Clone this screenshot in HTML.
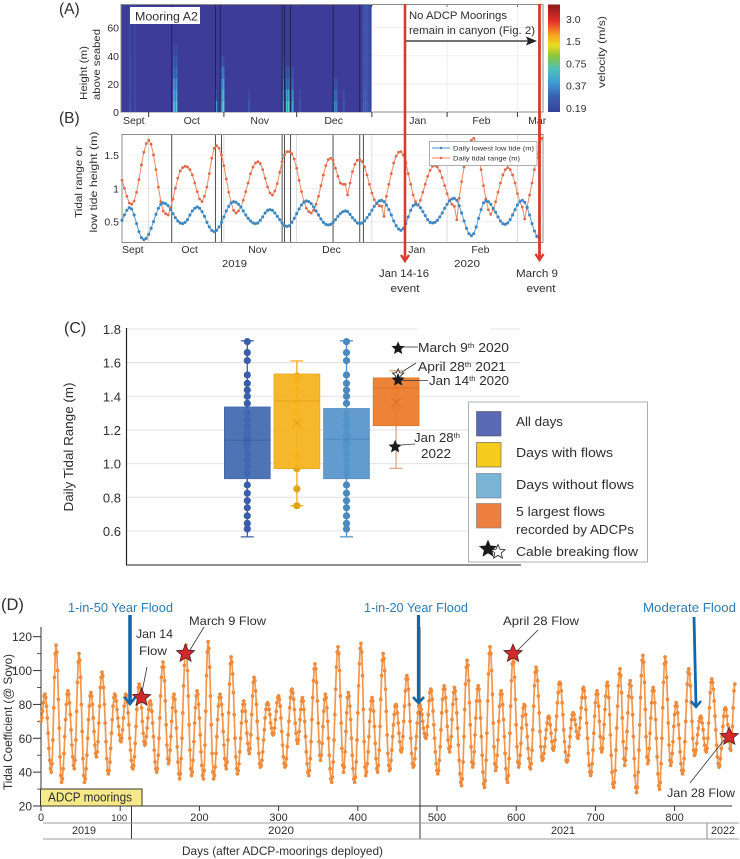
<!DOCTYPE html>
<html lang="en">
<head>
<meta charset="utf-8">
<title>Tidal range and canyon flows</title>
<style>
html,body{margin:0;padding:0;background:#fff;}
svg{display:block;}
text{font-family:"Liberation Sans",sans-serif;fill:#2e2e2e;}
</style>
</head>
<body>
<svg id="fig" xmlns="http://www.w3.org/2000/svg" width="740" height="859" viewBox="0 0 740 859">
<defs>
<linearGradient id="jet" x1="0" y1="1" x2="0" y2="0">
<stop offset="0" stop-color="#36409a"/><stop offset="0.14" stop-color="#3a5fb0"/><stop offset="0.28" stop-color="#3f9fd4"/><stop offset="0.4" stop-color="#4fc0b8"/><stop offset="0.52" stop-color="#8cc63f"/><stop offset="0.62" stop-color="#e8dc20"/><stop offset="0.72" stop-color="#f6a01e"/><stop offset="0.84" stop-color="#e4322a"/><stop offset="1" stop-color="#8a1a1c"/>
</linearGradient>
</defs>

<!-- Panel A frame -->
<rect x="121" y="4.5" width="422" height="107.5" fill="#fff" stroke="#8c8c8c" stroke-width="1"/>
<g id="aGrid"></g>
<rect x="121.5" y="5" width="250" height="107" fill="#3d3c98"/>
<g id="aHeat"></g>
<g id="aLines"></g>
<g id="aTicks"></g>
<rect x="130" y="7" width="70" height="17" fill="#fff"/>
<text x="135" y="20.5" font-size="11.5" textLength="63" lengthAdjust="spacingAndGlyphs">Mooring A2</text>
<text x="59" y="14" font-size="15.5">(A)</text>
<text x="59" y="123" font-size="15.5">(B)</text>
<text transform="translate(87,100) rotate(-90)" font-size="10.5" textLength="54" lengthAdjust="spacingAndGlyphs">Height (m)</text>
<text transform="translate(100,100) rotate(-90)" font-size="10.5" textLength="71" lengthAdjust="spacingAndGlyphs">above seabed</text>
<text x="409" y="19" font-size="11" textLength="98" lengthAdjust="spacingAndGlyphs">No ADCP Moorings</text>
<text x="409" y="34" font-size="11" textLength="126" lengthAdjust="spacingAndGlyphs">remain in canyon (Fig. 2)</text>
<line x1="405" y1="41" x2="530" y2="41" stroke="#444" stroke-width="1.6"/>
<polygon points="526,36.5 537,41 526,45.5 528,41" fill="#222"/>
<rect x="548" y="4.5" width="12" height="107.5" fill="url(#jet)"/>
<g id="cbLabels"></g>
<text transform="translate(605,52) rotate(-90)" font-size="10.5" text-anchor="middle" textLength="72" lengthAdjust="spacingAndGlyphs">velocity (m/s)</text>

<!-- Panel B -->
<rect x="122" y="134.5" width="421" height="108" fill="#fff" stroke="#8c8c8c" stroke-width="1"/>
<g id="bGrid"></g>
<g id="bLines"></g>
<g id="bSeries"></g>
<g id="bTicks"></g>
<text transform="translate(82,182) rotate(-90)" font-size="10.5" text-anchor="middle" textLength="72" lengthAdjust="spacingAndGlyphs">Tidal range or</text>
<text transform="translate(97,182) rotate(-90)" font-size="10.5" text-anchor="middle" textLength="101" lengthAdjust="spacingAndGlyphs">low tide height (m)</text>
<text x="222" y="267" font-size="10.5" textLength="25" lengthAdjust="spacingAndGlyphs">2019</text>
<text x="454" y="267" font-size="10.5" textLength="26" lengthAdjust="spacingAndGlyphs">2020</text>
<g>
<rect x="429.5" y="141.5" width="107.5" height="24" fill="#fff" stroke="#9a9a9a" stroke-width="0.8"/>
<line x1="432" y1="148" x2="450" y2="148" stroke="#4f94c8" stroke-width="1"/>
<circle cx="441" cy="148" r="1.3" fill="#3f87c0"/>
<line x1="432" y1="158" x2="450" y2="158" stroke="#ee8a5e" stroke-width="1"/>
<circle cx="441" cy="158" r="1.3" fill="#e0694a"/>
<text x="453" y="150.5" font-size="6.8" textLength="81" lengthAdjust="spacingAndGlyphs">Daily lowest low tide (m)</text>
<text x="453" y="160.5" font-size="6.8" textLength="67" lengthAdjust="spacingAndGlyphs">Daily tidal range (m)</text>
</g>

<!-- Red event arrows -->
<g>
<line x1="405" y1="4" x2="405" y2="260" stroke="#d93a2b" stroke-width="2.6"/>
<polyline points="401,255 405,261 409,255" fill="none" stroke="#d93a2b" stroke-width="2.4"/>
<line x1="539.5" y1="4" x2="539.5" y2="258" stroke="#d93a2b" stroke-width="2.8"/>
<polyline points="535.5,254 539.5,260 543.5,254" fill="none" stroke="#d93a2b" stroke-width="2.4"/>
</g>
<text x="404" y="277" font-size="11" text-anchor="middle" textLength="50" lengthAdjust="spacingAndGlyphs">Jan 14-16</text>
<text x="405" y="292" font-size="11" text-anchor="middle" textLength="29" lengthAdjust="spacingAndGlyphs">event</text>
<text x="537" y="277" font-size="11" text-anchor="middle" textLength="42" lengthAdjust="spacingAndGlyphs">March 9</text>
<text x="541" y="292" font-size="11" text-anchor="middle" textLength="29" lengthAdjust="spacingAndGlyphs">event</text>

<!-- Panel C -->
<text x="64" y="333" font-size="16">(C)</text>
<g id="cGrid"></g>
<rect x="417" y="326" width="74" height="6" fill="#fff"/>
<line x1="126.5" y1="328" x2="126.5" y2="565" stroke="#222" stroke-width="1.2"/>
<line x1="126" y1="565" x2="521" y2="565" stroke="#222" stroke-width="1"/>
<text transform="translate(73,447) rotate(-90)" font-size="12.5" text-anchor="middle" textLength="129" lengthAdjust="spacingAndGlyphs">Daily Tidal Range (m)</text>
<g id="cBoxes"></g>
<g id="cStars"></g>
<g stroke="#333" stroke-width="0.8">
<line x1="402" y1="347" x2="418" y2="347"/>
<line x1="402" y1="372" x2="416" y2="363"/>
<line x1="402" y1="380.5" x2="428" y2="380.5"/>
<line x1="401" y1="445" x2="415" y2="444"/>
</g>
<text x="418" y="352" font-size="13" textLength="91" lengthAdjust="spacingAndGlyphs">March 9<tspan dy="-4" font-size="7.5">th</tspan><tspan dy="4"> 2020</tspan></text>
<text x="418" y="371" font-size="13" textLength="88" lengthAdjust="spacingAndGlyphs">April 28<tspan dy="-4" font-size="7.5">th</tspan><tspan dy="4"> 2021</tspan></text>
<text x="429" y="385" font-size="13" textLength="80" lengthAdjust="spacingAndGlyphs">Jan 14<tspan dy="-4" font-size="7.5">th</tspan><tspan dy="4"> 2020</tspan></text>
<text x="414" y="442" font-size="13" textLength="46" lengthAdjust="spacingAndGlyphs">Jan 28<tspan dy="-4" font-size="7.5">th</tspan></text>
<text x="421" y="458" font-size="13" textLength="30" lengthAdjust="spacingAndGlyphs">2022</text>
<g>
<rect x="468.5" y="402" width="179" height="160" fill="#fff" stroke="#a3a8b0" stroke-width="0.9"/>
<rect x="476.5" y="411.5" width="24.5" height="24.5" fill="#5a69b4" stroke="#555" stroke-width="0.6"/>
<rect x="476.5" y="442.5" width="24.5" height="24.5" fill="#f6cc1d" stroke="#555" stroke-width="0.6"/>
<rect x="476.5" y="473.5" width="24.5" height="24.5" fill="#7ab5d8" stroke="#777" stroke-width="0.6"/>
<rect x="476.5" y="503.5" width="24.5" height="24.5" fill="#ef7f3f" stroke="#777" stroke-width="0.6"/>
<text x="516" y="426" font-size="13" textLength="47" lengthAdjust="spacingAndGlyphs">All days</text>
<text x="516" y="457" font-size="13" textLength="97" lengthAdjust="spacingAndGlyphs">Days with flows</text>
<text x="516" y="489" font-size="13" textLength="118" lengthAdjust="spacingAndGlyphs">Days without flows</text>
<text x="516" y="516" font-size="13" textLength="89" lengthAdjust="spacingAndGlyphs">5 largest flows</text>
<text x="516" y="534" font-size="13" textLength="118" lengthAdjust="spacingAndGlyphs">recorded by ADCPs</text>
<text x="516" y="556" font-size="13" textLength="122" lengthAdjust="spacingAndGlyphs">Cable breaking flow</text>
<g id="cLegendStars"></g>
</g>

<!-- Panel D -->
<text x="1" y="610" font-size="16.5">(D)</text>
<g id="dAxes"></g>
<line id="dLine20" x1="420" y1="627" x2="420" y2="839" stroke="#222" stroke-width="0.9"/>
<line x1="131.5" y1="806" x2="131.5" y2="839" stroke="#222" stroke-width="0.9"/>
<line x1="707" y1="823" x2="707" y2="839" stroke="#8a8a8a" stroke-width="1"/>
<line x1="43" y1="823" x2="739" y2="823" stroke="#9b9b9b" stroke-width="1"/>
<line x1="43" y1="839" x2="739" y2="839" stroke="#9b9b9b" stroke-width="1"/>
<text x="84" y="834" font-size="11" text-anchor="middle" textLength="24" lengthAdjust="spacingAndGlyphs">2019</text>
<text x="281" y="834" font-size="11" text-anchor="middle" textLength="26" lengthAdjust="spacingAndGlyphs">2020</text>
<text x="563" y="834" font-size="11" text-anchor="middle" textLength="24" lengthAdjust="spacingAndGlyphs">2021</text>
<text x="723" y="834" font-size="11" text-anchor="middle" textLength="24" lengthAdjust="spacingAndGlyphs">2022</text>
<text x="182" y="855" font-size="12" textLength="201" lengthAdjust="spacingAndGlyphs">Days (after ADCP-moorings deployed)</text>
<text transform="translate(12,722) rotate(-90)" font-size="12" text-anchor="middle" textLength="136" lengthAdjust="spacingAndGlyphs">Tidal Coefficient (@ Soyo)</text>
<g id="dSeries"></g>
<rect x="40.5" y="789" width="101.5" height="17" fill="#f6e98c" stroke="#3a3a28" stroke-width="1"/>
<text x="48" y="801.5" font-size="13" textLength="84" lengthAdjust="spacingAndGlyphs">ADCP moorings</text>
<g fill="none" stroke="#1268ad">
<line x1="130" y1="615" x2="130" y2="703" stroke-width="3.6"/>
<polyline points="124.5,697 130,704 135.5,697" stroke-width="2.6"/>
<line x1="418.5" y1="615" x2="418.5" y2="702" stroke-width="3.2"/>
<polyline points="413,697 418.5,703 424,697" stroke-width="2.6"/>
<line x1="694" y1="617" x2="696" y2="705" stroke-width="2.8"/>
<polyline points="691,701 696,707 701,701" stroke-width="2.4"/>
</g>
<text x="68" y="612" font-size="12.5" fill="#2f7cb5" style="fill:#2f7cb5" textLength="105" lengthAdjust="spacingAndGlyphs">1-in-50 Year Flood</text>
<text x="364" y="612" font-size="12.5" style="fill:#2f7cb5" textLength="104" lengthAdjust="spacingAndGlyphs">1-in-20 Year Flood</text>
<text x="643" y="612" font-size="12.5" style="fill:#2f7cb5" textLength="93" lengthAdjust="spacingAndGlyphs">Moderate Flood</text>
<g stroke="#333" stroke-width="0.8">
<line x1="147" y1="667" x2="142" y2="692"/>
<line x1="204" y1="627" x2="190" y2="650"/>
<line x1="538" y1="630" x2="518" y2="650"/>
<line x1="690" y1="783" x2="724" y2="740"/>
</g>
<g id="dStars"></g>
<text x="189" y="625" font-size="12" textLength="77" lengthAdjust="spacingAndGlyphs">March 9 Flow</text>
<text x="136" y="638" font-size="12" textLength="37" lengthAdjust="spacingAndGlyphs">Jan 14</text>
<text x="139" y="655" font-size="12" textLength="28" lengthAdjust="spacingAndGlyphs">Flow</text>
<text x="503" y="625" font-size="12" textLength="76" lengthAdjust="spacingAndGlyphs">April 28 Flow</text>
<text x="667" y="797" font-size="12" textLength="68" lengthAdjust="spacingAndGlyphs">Jan 28 Flow</text>
</svg>

<script>
// ---- Panel A data ----
const heightTicks = [0, 20, 40, 60];
const monthTickDays = [11, 42, 72, 103, 134, 163];
const eventLineDays = [20.5, 38.5, 40.5, 66, 67, 69.5, 87, 98];
const heatHeightBinSize = [8];
const heatDays = [3, 5, 21, 22, 38.4, 40.6, 41.4, 52, 66.2, 67.6, 68.4, 69.9, 73, 87.4, 88.2, 91, 99.2, 100, 100.8, 101.6];
const heatWidths = [1, 1, 1, 1, 1, 1, 1, 1, 1.1, 0.8, 0.8, 1, 1, 0.8, 0.8, 1, 0.8, 0.8, 0.8, 0.8];
const heatProfiles = [
  [0.24,0.23,0.23,0.23,0.23,0.22,0.22,0.22,0.22,0.22],
  [0.23,0.23,0.22,0.22,0.22,0.22,0.22,0.22,0.22,0.22],
  [0.62,0.50,0.42,0.30,0.26,0.22],
  [0.72,0.56,0.45,0.32,0.27,0.23],
  [0.45,0.24],
  [0.42,0.36,0.32,0.27,0.23],
  [0.72,0.62,0.50,0.36,0.24],
  [0.27,0.22],
  [0.50,0.40,0.32,0.26,0.22],
  [0.68,0.50,0.30,0.25],
  [0.72,0.52,0.30,0.25],
  [0.52,0.42,0.30,0.25],
  [0.25,0.22],
  [0.42,0.32,0.25],
  [0.36,0.28,0.24],
  [0.26,0.24],
  [0.30,0.28,0.27,0.27,0.27,0.27,0.27,0.27,0.27,0.27],
  [0.31,0.30,0.28,0.28,0.28,0.28,0.28,0.28,0.28,0.28],
  [0.28,0.27,0.27,0.27,0.27,0.27,0.27,0.27,0.27,0.27],
  [0.25,0.25,0.25,0.25,0.25,0.25,0.25,0.25,0.25,0.25]
];
const colorbarTicks = ["3.0", "1.5", "0.75", "0.37", "0.19"];
const monthLabelsA = ["Sept", "Oct", "Nov", "Dec", "Jan", "Feb", "Mar"];
const monthLabelDaysA = [0, 25, 52.5, 83, 118, 144, 167];

// ---- Panel B data ----
const tideTicks = [0.5, 1, 1.5];
const monthLabelsB = ["Sept", "Oct", "Nov", "Dec", "Jan", "Feb"];
const monthLabelDaysB = [0, 24.5, 52, 82.5, 118, 144];
const eventLineDaysB = [20.5, 38.5, 41, 66, 67, 69.5, 87, 98, 99.5];
const lowestLowTide = [0.52,0.60,0.67,0.71,0.69,0.60,0.47,0.35,0.26,0.23,0.25,0.31,0.40,0.50,0.61,0.70,0.76,0.78,0.77,0.74,0.68,0.62,0.56,0.51,0.48,0.47,0.49,0.53,0.60,0.66,0.70,0.72,0.70,0.65,0.58,0.49,0.42,0.37,0.35,0.37,0.42,0.49,0.57,0.66,0.73,0.78,0.80,0.79,0.76,0.72,0.66,0.60,0.55,0.51,0.48,0.47,0.48,0.52,0.57,0.63,0.67,0.68,0.67,0.63,0.58,0.53,0.48,0.44,0.43,0.44,0.49,0.55,0.62,0.69,0.75,0.79,0.81,0.80,0.77,0.72,0.66,0.60,0.54,0.49,0.46,0.45,0.46,0.49,0.53,0.58,0.62,0.65,0.66,0.65,0.61,0.56,0.52,0.48,0.47,0.48,0.51,0.56,0.61,0.67,0.73,0.78,0.81,0.82,0.80,0.75,0.68,0.60,0.51,0.44,0.39,0.37,0.40,0.47,0.57,0.67,0.74,0.76,0.75,0.71,0.65,0.59,0.53,0.49,0.48,0.49,0.52,0.57,0.63,0.70,0.76,0.81,0.84,0.85,0.82,0.74,0.63,0.51,0.40,0.32,0.29,0.32,0.42,0.55,0.68,0.78,0.81,0.80,0.76,0.70,0.64,0.57,0.51,0.47,0.46,0.48,0.53,0.60,0.68,0.75,0.80,0.82,0.79,0.71,0.60,0.47,0.36,0.28,0.25];
const dailyTidalRange = [1.12,1.00,0.88,0.78,0.76,0.81,0.94,1.13,1.35,1.54,1.67,1.72,1.66,1.50,1.28,1.02,0.80,0.66,0.62,0.60,0.70,0.84,1.00,1.15,1.26,1.31,1.33,1.32,1.28,1.20,1.08,0.95,0.84,0.80,0.88,1.02,1.22,1.45,1.60,1.64,1.60,1.50,1.34,1.14,0.94,0.78,0.67,0.63,0.66,0.72,0.82,0.95,1.08,1.22,1.32,1.38,1.40,1.37,1.28,1.15,1.02,0.93,0.90,0.96,1.07,1.24,1.40,1.50,1.55,1.55,1.52,1.44,1.30,1.12,0.95,0.80,0.70,0.65,0.63,0.67,0.76,0.88,1.04,1.20,1.34,1.43,1.45,1.42,1.30,1.18,1.08,1.06,1.06,0.90,1.08,1.25,1.36,1.42,1.43,1.40,1.32,1.20,1.06,0.93,0.83,0.77,0.74,0.73,0.58,0.88,1.06,1.22,1.38,1.48,1.54,1.55,1.50,1.38,1.22,1.06,0.90,0.80,0.75,0.82,0.94,1.06,1.18,1.27,1.33,1.34,1.32,1.26,1.16,1.04,0.92,0.82,0.76,0.73,0.53,0.85,1.10,1.32,1.50,1.65,1.72,1.75,1.68,1.50,1.28,1.04,0.84,0.68,0.61,0.68,0.80,0.94,1.08,1.20,1.28,1.31,1.28,1.20,1.08,0.92,0.80,0.72,0.54,0.72,0.90,1.08,1.28,1.46,1.62,1.75];

// ---- Panel C data ----
const rangeTicks = [0.6, 0.8, 1.0, 1.2, 1.4, 1.6, 1.8];
const rangeTickLabels = ["0.6", "0.8", "1.0", "1.2", "1.4", "1.6", "1.8"];
const boxCategories = ["all-days", "days-with-flows", "days-without-flows", "largest-flows"];
const boxColors = ["#4169b0", "#f4b21b", "#5694cb", "#ec7a28"];
const boxEdges = ["#3a5fa8", "#e3a312", "#4c89c0", "#dd6e20"];
const whiskerLow = [0.565, 0.75, 0.565, 0.972];
const quartile1 = [0.91, 0.97, 0.91, 1.225];
const medians = [1.14, 1.372, 1.145, 1.45];
const quartile3 = [1.337, 1.533, 1.328, 1.51];
const whiskerHigh = [1.73, 1.61, 1.73, 1.552];
const means = [1.14, 1.24, 1.14, 1.364];
const pointsAllDays = [1.725,1.66,1.612,1.527,1.477,1.437,1.40,1.358,1.30,1.26,1.22,1.18,1.14,1.10,1.06,1.02,0.98,0.94,0.873,0.824,0.78,0.738,0.69,0.645,0.612];
const pointsWithFlows = [1.52,1.495,1.43,1.37,1.31,1.04,0.97,0.85,0.75];
const pointsWithoutFlows = [1.725,1.66,1.612,1.527,1.477,1.437,1.40,1.358,1.30,1.26,1.22,1.18,1.14,1.10,1.06,1.02,0.98,0.94,0.873,0.824,0.78,0.738,0.69,0.645,0.612];
const pointsLargest = [1.428, 1.319];
const breakingFlowRanges = [1.685, 1.527, 1.497, 1.10];
const breakingFlowNames = ["march-9-2020", "april-28-2021", "jan-14-2020", "jan-28-2022"];
const breakingFlowFills = ["#1a1a1a", "#ffffff", "#1a1a1a", "#1a1a1a"];

// ---- Panel D data ----
const coefTicks = [20, 40, 60, 80, 100, 120];
const coefMinorTicks = [30, 50, 70, 90, 110];
const dayTicks = [0, 100, 200, 300, 400, 500, 600, 700, 800];
const flowDays = [127, 182.5, 596, 869];
const flowCoefficients = [84, 110, 110, 61];
const flowNames = ["jan-14", "march-9", "april-28", "jan-28"];
const tidalCoefficient = [
70,72,76,81,85,86,84,79,72,63,54,47,42,40,45,59,78,96,110,115,111,100,83,66,49,38,34,
36,42,51,61,71,80,86,88,86,81,74,65,56,49,44,42,47,59,76,93,105,110,106,96,80,64,48,38,34,
36,42,50,60,71,79,85,87,85,80,72,64,56,51,49,52,58,69,79,90,96,99,97,90,80,69,58,48,41,39,
41,46,54,63,71,79,84,86,85,82,77,72,67,62,59,58,60,65,72,79,84,86,85,81,75,68,60,53,47,43,42,
44,49,57,67,77,85,90,92,90,85,78,70,63,58,56,57,61,66,72,77,81,82,80,76,69,61,53,46,42,40,
42,50,60,72,85,96,102,105,102,94,82,68,56,48,45,47,53,61,70,78,84,86,83,76,66,55,46,39,36,
39,48,60,75,91,103,112,115,111,100,85,68,53,42,38,40,47,58,69,78,85,88,86,80,72,62,52,44,38,36,
41,56,76,97,111,117,113,102,85,68,51,40,36,38,43,51,61,71,79,84,86,84,80,74,64,56,48,44,42,
46,59,75,92,104,108,105,98,87,74,60,49,42,39,41,45,52,60,69,76,80,82,80,76,70,63,57,53,51,
54,62,74,85,93,96,94,88,80,70,60,51,45,43,44,47,52,59,65,72,77,80,81,80,77,74,69,66,63,62,
63,66,71,76,81,84,85,83,79,72,64,56,49,45,43,44,48,55,62,70,78,84,88,89,87,83,77,69,63,59,57,
59,64,71,77,82,84,82,77,70,61,52,45,40,38,41,48,58,71,84,94,101,104,101,93,82,69,58,50,47,
50,57,67,76,83,86,84,78,70,60,50,42,36,34,37,46,59,74,89,102,111,114,110,100,85,69,54,44,40,
43,52,64,75,84,87,85,79,71,60,50,42,36,34,37,46,59,75,91,104,113,116,111,97,77,58,43,38,
40,45,52,61,70,77,82,84,82,76,67,57,48,42,40,44,53,67,83,97,106,110,107,100,89,76,62,51,44,41,
42,47,53,61,68,74,79,80,79,75,69,63,58,53,52,54,61,70,79,88,95,97,95,89,80,70,60,51,45,43,
44,48,54,61,69,75,79,80,79,77,74,70,66,63,61,60,62,67,74,82,87,89,88,83,76,68,60,52,45,41,39,
41,47,55,65,75,83,89,91,89,84,76,67,59,54,52,55,61,71,80,87,90,88,83,75,66,56,47,39,34,32,
36,46,61,77,92,102,106,103,94,81,68,55,46,43,45,52,62,72,82,89,91,89,82,72,61,50,40,33,31,
35,47,63,82,98,110,114,110,100,86,69,55,45,41,43,50,59,70,79,86,88,86,80,71,61,51,42,36,34,
38,48,63,79,94,104,108,105,96,83,68,55,46,43,45,50,57,66,73,78,80,79,74,68,61,54,48,43,42,
45,53,65,79,91,99,102,100,94,85,75,64,55,49,47,48,51,55,60,65,69,72,73,72,68,63,58,54,53,
55,59,65,73,81,87,92,93,92,88,81,74,65,58,52,47,46,47,50,55,61,66,71,74,75,74,71,68,64,61,60,
62,66,72,78,84,89,90,88,84,77,69,60,51,44,40,38,40,45,53,63,73,81,86,88,86,79,70,61,54,52,
54,60,68,77,85,91,93,91,84,74,62,50,40,33,31,34,41,53,66,79,91,98,101,97,87,72,58,48,44,
47,54,64,75,85,92,94,91,84,74,61,48,38,31,28,31,40,53,68,84,97,106,109,105,93,77,61,49,45,
47,54,63,72,81,88,90,88,81,71,60,49,39,32,30,34,45,60,78,93,104,108,105,96,83,69,56,47,44,
46,51,58,67,74,79,81,79,75,68,60,52,45,41,39,41,48,58,70,82,92,99,101,98,91,81,70,60,53,50,
51,53,57,62,66,70,72,73,72,69,65,60,56,53,52,54,60,69,78,87,93,95,93,89,82,73,65,56,49,45,43,
44,48,54,61,67,73,77,78,77,73,68,63,58,54,53,58,67,78,88,92
];

// ---- Helpers ----
const SVG_NS = "http://www.w3.org/2000/svg";
function add(parent, tag, attrs, text) {
  const el = document.createElementNS(SVG_NS, tag);
  for (const k in attrs) el.setAttribute(k, attrs[k]);
  if (text !== undefined) el.textContent = text;
  document.getElementById(parent).appendChild(el);
  return el;
}
function starPoints(cx, cy, R) {
  const pts = [];
  for (let i = 0; i < 10; i++) {
    const r = i % 2 ? R * 0.45 : R;
    const a = -Math.PI / 2 + i * Math.PI / 5;
    pts.push((cx + r * Math.cos(a)).toFixed(1) + "," + (cy + r * Math.sin(a)).toFixed(1));
  }
  return pts.join(" ");
}
function linePoints(values, xf, yf) {
  return values.map((v, i) => xf(i).toFixed(1) + "," + yf(v).toFixed(1)).join(" ");
}

// ---- Scales ----
const xMonth = d => 122 + 2.426 * d;
const yHeight = h => 112 - h * 1.405;
const yTide = v => 188.3 - (v - 1) * 66.7;
const yRange = v => 329 + (1.8 - v) * 168.3;
const boxCenter = i => 247.3 + i * 49.6;
const xDay = d => 41 + 0.792 * d;
const yCoef = v => 806 - (v - 20) * 1.693;
function velocityColor(v) {
  const t = Math.log(v / 0.19) / Math.log(0.75 / 0.19);
  const stops = [[0.0,[61,60,152]],[0.25,[58,90,176]],[0.5,[62,130,200]],[0.75,[70,170,215]],[1.0,[90,205,205]]];
  const c = Math.max(0, Math.min(0.999, t));
  const i = Math.floor(c * 4);
  const f = c * 4 - i;
  const a = stops[i][1], b = stops[i + 1][1];
  return "rgb(" + a.map((x, k) => Math.round(x + (b[k] - x) * f)).join(",") + ")";
}

// ---- Panel A ----
[20, 40, 60].forEach(h => {
  const el = add("aGrid", "line", {x1: 372, x2: 543, y1: yHeight(h), y2: yHeight(h), stroke: "#e8e8e8", "stroke-width": 0.7});
  
  
});
monthTickDays.forEach(d => {
  const grid = add("aGrid", "line", {x1: xMonth(d), x2: xMonth(d), y1: 5, y2: 112, stroke: "#e8e8e8", "stroke-width": 0.7});
  
  
  const tick = add("aTicks", "line", {x1: xMonth(d), x2: xMonth(d), y1: 112, y2: 117, stroke: "#333", "stroke-width": 1});
  
  
  const top = add("aTicks", "line", {x1: xMonth(d), x2: xMonth(d), y1: 5, y2: 7, stroke: "#555", "stroke-width": 0.8});
  
  
});
heatDays.forEach((d, i) => {
  heatProfiles[i].forEach((v, b) => {
    const h0 = b * heatHeightBinSize[0];
    const top = Math.min(yHeight(h0 + heatHeightBinSize[0]), 112);
    const cell = add("aHeat", "rect", {x: xMonth(d), y: Math.max(5, top), width: heatWidths[i] * 2, height: Math.max(0, yHeight(h0) - Math.max(5, top)), fill: velocityColor(v)});
    
    
  });
});
eventLineDays.forEach(d => {
  const el = add("aLines", "line", {x1: xMonth(d), x2: xMonth(d), y1: 5, y2: 112, stroke: "#1d1e52", "stroke-width": 0.9});
  
  
});
heightTicks.forEach(h => {
  const el = add("aTicks", "text", {x: 119, y: yHeight(h) + 4, "font-size": 10.5, "text-anchor": "end"}, String(h));
  
  
});
monthLabelsA.forEach((m, i) => {
  const el = add("aTicks", "text", {x: xMonth(monthLabelDaysA[i]) + 1, y: 124, "font-size": 10.5}, m);
  
  
});
colorbarTicks.forEach((t, i) => {
  const el = add("cbLabels", "text", {x: 566, y: 23 + i * 22.2, "font-size": 10.5}, t);
  
  
});

// ---- Panel B ----
tideTicks.forEach(v => {
  const g = add("bGrid", "line", {x1: 122, x2: 543, y1: yTide(v), y2: yTide(v), stroke: "#ececec", "stroke-width": 0.7});
  
  
  const t = add("bTicks", "text", {x: 119, y: yTide(v) + 4, "font-size": 10.5, "text-anchor": "end"}, String(v));
  
  
});
monthTickDays.forEach(d => {
  const g = add("bGrid", "line", {x1: xMonth(d), x2: xMonth(d), y1: 135, y2: 242, stroke: "#cfcfcf", "stroke-width": 0.7});
  
  
});
eventLineDaysB.forEach(d => {
  const el = add("bLines", "line", {x1: xMonth(d), x2: xMonth(d), y1: 135, y2: 242, stroke: "#3a3a3a", "stroke-width": 0.9});
  
  
});
monthLabelsB.forEach((m, i) => {
  const el = add("bTicks", "text", {x: xMonth(monthLabelDaysB[i]), y: 253, "font-size": 10.5}, m);
  
  
});
const rangeLine = add("bSeries", "polyline", {points: linePoints(dailyTidalRange, xMonth, yTide), fill: "none", stroke: "#ec8a62", "stroke-width": 1});


const lowLine = add("bSeries", "polyline", {points: linePoints(lowestLowTide, xMonth, yTide), fill: "none", stroke: "#5a9bcc", "stroke-width": 1});


dailyTidalRange.forEach((v, i) => {
  const dot = add("bSeries", "circle", {cx: xMonth(i), cy: yTide(v), r: 1.4, fill: "#e0674a"});
  
  
});
lowestLowTide.forEach((v, i) => {
  const dot = add("bSeries", "circle", {cx: xMonth(i), cy: yTide(v), r: 1.55, fill: "#3f87c0"});
  
  
});

// ---- Panel C ----
rangeTicks.forEach((v, i) => {
  const g = add("cGrid", "line", {x1: 127, x2: 520, y1: yRange(v), y2: yRange(v), stroke: "#e6e6e6", "stroke-width": 1.2});
  
  
  const t = add("cGrid", "text", {x: 121, y: yRange(v) + 5, "font-size": 13, "text-anchor": "end"}, rangeTickLabels[i]);
  
  
});
const boxPoints = [pointsAllDays, pointsWithFlows, pointsWithoutFlows, pointsLargest];
boxCategories.forEach((cat, i) => {
  const cx = boxCenter(i);
  const stemColor = i === 3 ? "#e3a787" : boxColors[i];
  const stem = add("cBoxes", "line", {x1: cx, x2: cx, y1: yRange(whiskerHigh[i]), y2: yRange(whiskerLow[i]), stroke: stemColor, "stroke-width": 1.4});
  
  
  [whiskerHigh[i], whiskerLow[i]].forEach(v => {
    const cap = add("cBoxes", "line", {x1: cx - 6.5, x2: cx + 6.5, y1: yRange(v), y2: yRange(v), stroke: stemColor, "stroke-width": 1.3});
    
    
  });
  boxPoints[i].forEach(v => {
    const inside = v < quartile3[i] && v > quartile1[i];
    const solid = i === 0 || i === 2 || !inside;
    const dot = add("cBoxes", "circle", {cx: cx, cy: yRange(v), r: 3.1, fill: solid ? boxEdges[i] : "none", stroke: boxEdges[i], "stroke-width": 1});
    
    
  });
  const box = add("cBoxes", "rect", {x: cx - 23, y: yRange(quartile3[i]), width: 46, height: yRange(quartile1[i]) - yRange(quartile3[i]), fill: boxColors[i], "fill-opacity": 0.93, stroke: boxEdges[i], "stroke-width": 0.6});
  
  
  const med = add("cBoxes", "line", {x1: cx - 23, x2: cx + 23, y1: yRange(medians[i]), y2: yRange(medians[i]), stroke: boxEdges[i], "stroke-width": 1});
  
  
  const my = yRange(means[i]);
  const x1 = add("cBoxes", "line", {x1: cx - 4.5, x2: cx + 4.5, y1: my - 4.5, y2: my + 4.5, stroke: boxEdges[i], "stroke-width": 1});
  
  
  const x2 = add("cBoxes", "line", {x1: cx - 4.5, x2: cx + 4.5, y1: my + 4.5, y2: my - 4.5, stroke: boxEdges[i], "stroke-width": 1});
  
  
});
breakingFlowRanges.forEach((v, i) => {
  const s = add("cStars", "polygon", {points: starPoints(boxCenter(3) + (i === 3 ? -1 : 2), yRange(v), 6), fill: breakingFlowFills[i], stroke: "#1a1a1a", "stroke-width": 0.8});
  
  
});
const legendStarBlack = add("cLegendStars", "polygon", {points: starPoints(488, 549, 8.5), fill: "#1a1a1a", stroke: "#1a1a1a", "stroke-width": 0.8});


const legendStarWhite = add("cLegendStars", "polygon", {points: starPoints(498, 552, 7.5), fill: "#fff", stroke: "#1a1a1a", "stroke-width": 0.8});



// ---- Panel D ----
const dYAxis = add("dAxes", "line", {x1: 41, x2: 41, y1: 627, y2: 806, stroke: "#333", "stroke-width": 1});


const dXAxis = add("dAxes", "line", {x1: 41, x2: 732, y1: 806, y2: 806, stroke: "#333", "stroke-width": 1});


coefTicks.forEach(v => {
  const tick = add("dAxes", "line", {x1: 33, x2: 41, y1: yCoef(v), y2: yCoef(v), stroke: "#333", "stroke-width": 1});
  
  
  const label = add("dAxes", "text", {x: 32, y: yCoef(v) + 4.5, "font-size": 12, "text-anchor": "end"}, String(v));
  
  
});
coefMinorTicks.forEach(v => {
  const tick = add("dAxes", "line", {x1: 37, x2: 41, y1: yCoef(v), y2: yCoef(v), stroke: "#333", "stroke-width": 0.8});
  
  
});
dayTicks.forEach(d => {
  const tick = add("dAxes", "line", {x1: xDay(d), x2: xDay(d), y1: 806, y2: 811, stroke: "#333", "stroke-width": 1});
  
  
  const label = add("dAxes", "text", {x: xDay(d) - (d === 100 ? 1 : 0), y: 821, "font-size": d === 100 ? 9.5 : 11, "text-anchor": "middle"}, String(d));
  
  
});
const coefLine = add("dSeries", "polyline", {points: linePoints(tidalCoefficient, xDay, yCoef), fill: "none", stroke: "#f0984f", "stroke-width": 1.7});


tidalCoefficient.forEach((v, i) => {
  const dot = add("dSeries", "circle", {cx: xDay(i), cy: yCoef(v), r: 1.85, fill: "#ee8a3c"});
  
  
});
flowDays.forEach((d, i) => {
  const s = add("dStars", "polygon", {points: starPoints(xDay(d), yCoef(flowCoefficients[i]), 9.5), fill: "#d3292e", stroke: "#4a2020", "stroke-width": 0.8});
  
  
});
</script>
</body>
</html>
